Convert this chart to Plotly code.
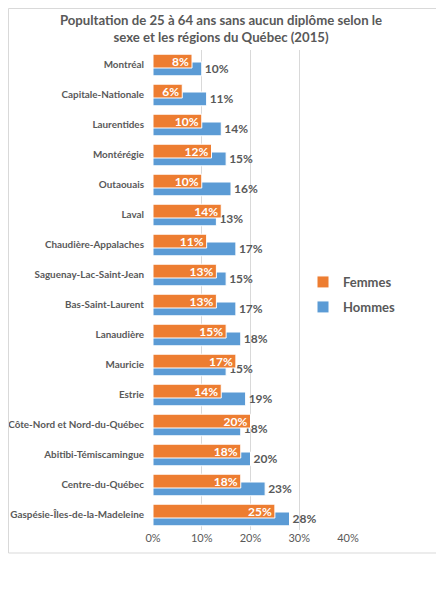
import plotly.graph_objects as go

########## DATA ##########
regions = [
    "Montréal", "Capitale-Nationale", "Laurentides", "Montérégie", "Outaouais",
    "Laval", "Chaudière-Appalaches", "Saguenay-Lac-Saint-Jean", "Bas-Saint-Laurent",
    "Lanaudière", "Mauricie", "Estrie", "Côte-Nord et Nord-du-Québec",
    "Abitibi-Témiscamingue", "Centre-du-Québec", "Gaspésie-Îles-de-la-Madeleine",
]
femmes = [8, 6, 10, 12, 10, 14, 11, 13, 13, 15, 17, 14, 20, 18, 18, 25]
hommes = [10, 11, 14, 15, 16, 13, 17, 15, 17, 18, 15, 19, 18, 20, 23, 28]
x_ticks = [0, 10, 20, 30, 40]
x_ticktext = ["0%", "10%", "20%", "30%", "40%"]

GREY = "#595959"
FONT = "Lato"

# the page body adds an 8px margin, so the figure is 8px smaller
W, H = 436, 592
L, R, T, B = 145, 96, 42, 70
PW, PH = W - L - R, H - T - B

fig = go.Figure()

# Hommes drawn first, Femmes on top (Excel-style overlap)
fig.add_trace(go.Bar(
    y=regions, x=hommes, name="Hommes", orientation="h", legend="legend2",
    marker=dict(color="#5B9BD5", line=dict(color="white", width=1)),
    width=0.46, offset=-0.10,
    text=[f"{v}%" for v in hommes], texttemplate="%{text}",
    textposition="outside", cliponaxis=False,
    textfont=dict(color=GREY, size=12, family=FONT, weight="bold"),
))
fig.add_trace(go.Bar(
    y=regions, x=femmes, name="Femmes", orientation="h", legend="legend",
    marker=dict(color="#ED7D31", line=dict(color="white", width=1)),
    width=0.46, offset=-0.36,
    text=[f"{v}%" for v in femmes], texttemplate="%{text}",
    textposition="inside", insidetextanchor="end",
    textfont=dict(color="white", size=12, family=FONT, weight="bold"),
))

legend_style = dict(
    xanchor="left", yanchor="middle",
    font=dict(size=13, color=GREY, family=FONT, weight="bold"),
    bgcolor="rgba(0,0,0,0)", itemwidth=30,
)

fig.update_layout(
    width=W, height=H,
    barmode="overlay",
    paper_bgcolor="white", plot_bgcolor="white",
    margin=dict(l=L, r=R, t=T, b=B),
    font=dict(family=FONT, color=GREY, size=11),
    title=dict(
        text="Popultation de 25 à 64 ans sans aucun diplôme selon le<br>sexe et les régions du Québec (2015)",
        x=(221 - 8) / W, xanchor="center", xref="container",
        y=1 - 17 / H, yanchor="middle", yref="container",
        font=dict(size=13.2, color=GREY, family=FONT, weight="bold"),
    ),
    legend=dict(x=(295 - L) / PW, y=(H - B - (282 - 8)) / PH, **legend_style),
    legend2=dict(x=(295 - L) / PW, y=(H - B - (307 - 8)) / PH, **legend_style),
    showlegend=True,
    uniformtext=dict(mode="show", minsize=12),
    shapes=[dict(
        type="rect", xref="paper", yref="paper",
        x0=(0.5 - L) / PW, x1=(431 - L) / PW,
        y0=(H - B - 545) / PH, y1=(H - B - 0.5) / PH,
        line=dict(color="#d9d9d9", width=1), fillcolor="rgba(0,0,0,0)",
    )],
)

fig.update_xaxes(
    range=[0, 40], tickvals=x_ticks, ticktext=x_ticktext,
    showgrid=True, gridcolor="#d9d9d9", gridwidth=1,
    zeroline=False, showline=False, automargin=False,
    tickfont=dict(size=11, color=GREY, family=FONT),
)
fig.update_yaxes(
    autorange="reversed", showgrid=False, showline=False,
    ticks="", ticklabelstandoff=8, automargin=False,
    tickfont=dict(size=9.9, color=GREY, family=FONT, weight="bold"),
)

fig.write_html("out.html")
